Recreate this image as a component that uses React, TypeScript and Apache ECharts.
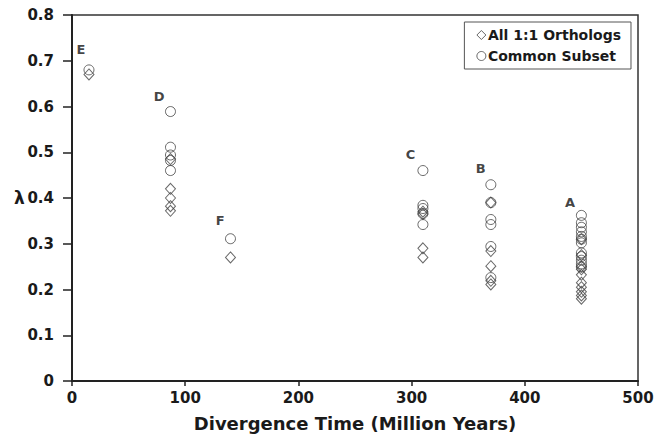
import React, { useEffect, useRef } from "react";
import * as echarts from "echarts";

const xTicks = [0, 100, 200, 300, 400, 500];
const yTicks = [0, 0.1, 0.2, 0.3, 0.4, 0.5, 0.6, 0.7, 0.8];

// [divergence time, lambda]
const allOrthologs: [number, number][] = [
  [15, 0.67],
  [87, 0.485], [87, 0.42], [87, 0.40], [87, 0.382], [87, 0.372],
  [140, 0.27],
  [310, 0.37], [310, 0.365], [310, 0.29], [310, 0.27],
  [370, 0.39], [370, 0.284], [370, 0.251], [370, 0.219], [370, 0.211],
  [450, 0.31], [450, 0.275], [450, 0.25], [450, 0.244], [450, 0.232], [450, 0.215],
  [450, 0.205], [450, 0.195], [450, 0.187], [450, 0.18],
];

const commonSubset: [number, number][] = [
  [15, 0.68],
  [87, 0.589], [87, 0.511], [87, 0.494], [87, 0.482], [87, 0.46],
  [140, 0.311],
  [310, 0.46], [310, 0.384], [310, 0.377], [310, 0.366], [310, 0.342],
  [370, 0.429], [370, 0.39], [370, 0.353], [370, 0.342], [370, 0.294], [370, 0.226],
  [450, 0.362], [450, 0.346], [450, 0.336], [450, 0.326], [450, 0.316], [450, 0.31],
  [450, 0.302], [450, 0.28], [450, 0.272], [450, 0.264], [450, 0.256], [450, 0.249],
];

const groupLabels: [number, number, string][] = [
  [8, 0.724, "E"],
  [77, 0.621, "D"],
  [131, 0.351, "F"],
  [299, 0.495, "C"],
  [361, 0.464, "B"],
  [440, 0.39, "A"],
];

const FONT = "DejaVu Sans, Verdana, sans-serif";
const INK = "#1a1a1a";
const MARK = "#444";

export default function App() {
  const ref = useRef<HTMLDivElement>(null);
  useEffect(() => {
    if (!ref.current) return;
    const chart = echarts.init(ref.current, undefined, { renderer: "svg" });
    chart.setOption({
      animation: false,
      backgroundColor: "#fff",
      grid: {
        left: 72,
        right: 28,
        top: 15,
        bottom: 55,
        show: true,
        borderColor: "#333",
        borderWidth: 1.5,
        backgroundColor: "transparent",
      },
      legend: {
        orient: "vertical",
        right: 35,
        top: 22,
        padding: [6, 10, 6, 12],
        itemGap: 7,
        itemWidth: 9,
        itemHeight: 9,
        borderColor: "#555",
        borderWidth: 1,
        backgroundColor: "#fff",
        textStyle: { fontFamily: FONT, fontWeight: "bold", fontSize: 14, color: INK, padding: [0, 0, 0, -3] },
        data: [
          { name: "All 1:1 Orthologs", icon: "diamond", itemStyle: { color: "transparent", borderColor: MARK, borderWidth: 1 } },
          { name: "Common Subset", icon: "circle", itemStyle: { color: "transparent", borderColor: MARK, borderWidth: 1 } },
        ],
      },
      xAxis: {
        type: "value",
        min: xTicks[0],
        max: xTicks[xTicks.length - 1],
        interval: 100,
        name: "Divergence Time (Million Years)",
        nameLocation: "middle",
        nameGap: 33,
        nameTextStyle: { fontFamily: FONT, fontWeight: "bold", fontSize: 18, color: INK },
        axisLine: { onZero: false, lineStyle: { color: "#222", width: 2 } },
        axisTick: { show: true, length: 5, inside: false, lineStyle: { color: "#222", width: 1.5 } },
        axisLabel: { fontFamily: FONT, fontWeight: "bold", fontSize: 15, color: INK, margin: 9 },
        splitLine: { show: false },
      },
      yAxis: {
        type: "value",
        min: yTicks[0],
        max: yTicks[yTicks.length - 1],
        interval: 0.1,
        axisLine: { onZero: false, lineStyle: { color: "#222", width: 2 } },
        axisTick: { show: true, length: 9, inside: false, lineStyle: { color: "#222", width: 1.5 } },
        axisLabel: {
          fontFamily: FONT,
          fontWeight: "bold",
          fontSize: 15,
          color: INK,
          margin: 18,
          formatter: (v: number) => (v === 0 ? "0" : v.toFixed(1)),
        },
        splitLine: { show: false },
      },
      graphic: [
        {
          type: "text",
          left: 14,
          top: 189,
          style: { text: "λ", font: `bold 17px ${FONT}`, fill: INK },
        },
      ],
      series: [
        {
          name: "All 1:1 Orthologs",
          type: "scatter",
          symbol: "diamond",
          symbolSize: [10, 11],
          itemStyle: { color: "transparent", borderColor: MARK, borderWidth: 1 },
          data: allOrthologs,
          z: 3,
        },
        {
          name: "Common Subset",
          type: "scatter",
          symbol: "circle",
          symbolSize: 10,
          itemStyle: { color: "transparent", borderColor: MARK, borderWidth: 1 },
          data: commonSubset,
          z: 3,
        },
        {
          name: "labels",
          type: "scatter",
          symbolSize: 0,
          silent: true,
          data: groupLabels.map((d) => ({ value: [d[0], d[1]], name: d[2] })),
          label: {
            show: true,
            position: "inside",
            formatter: (p: any) => p.name,
            fontFamily: FONT,
            fontWeight: "bold",
            fontSize: 13,
            color: "#111",
          },
          z: 4,
        },
      ],
    });
    return () => chart.dispose();
  }, []);
  return <div ref={ref} style={{ width: 666, height: 437, position: "absolute", left: 0, top: 0 }} />;
}
